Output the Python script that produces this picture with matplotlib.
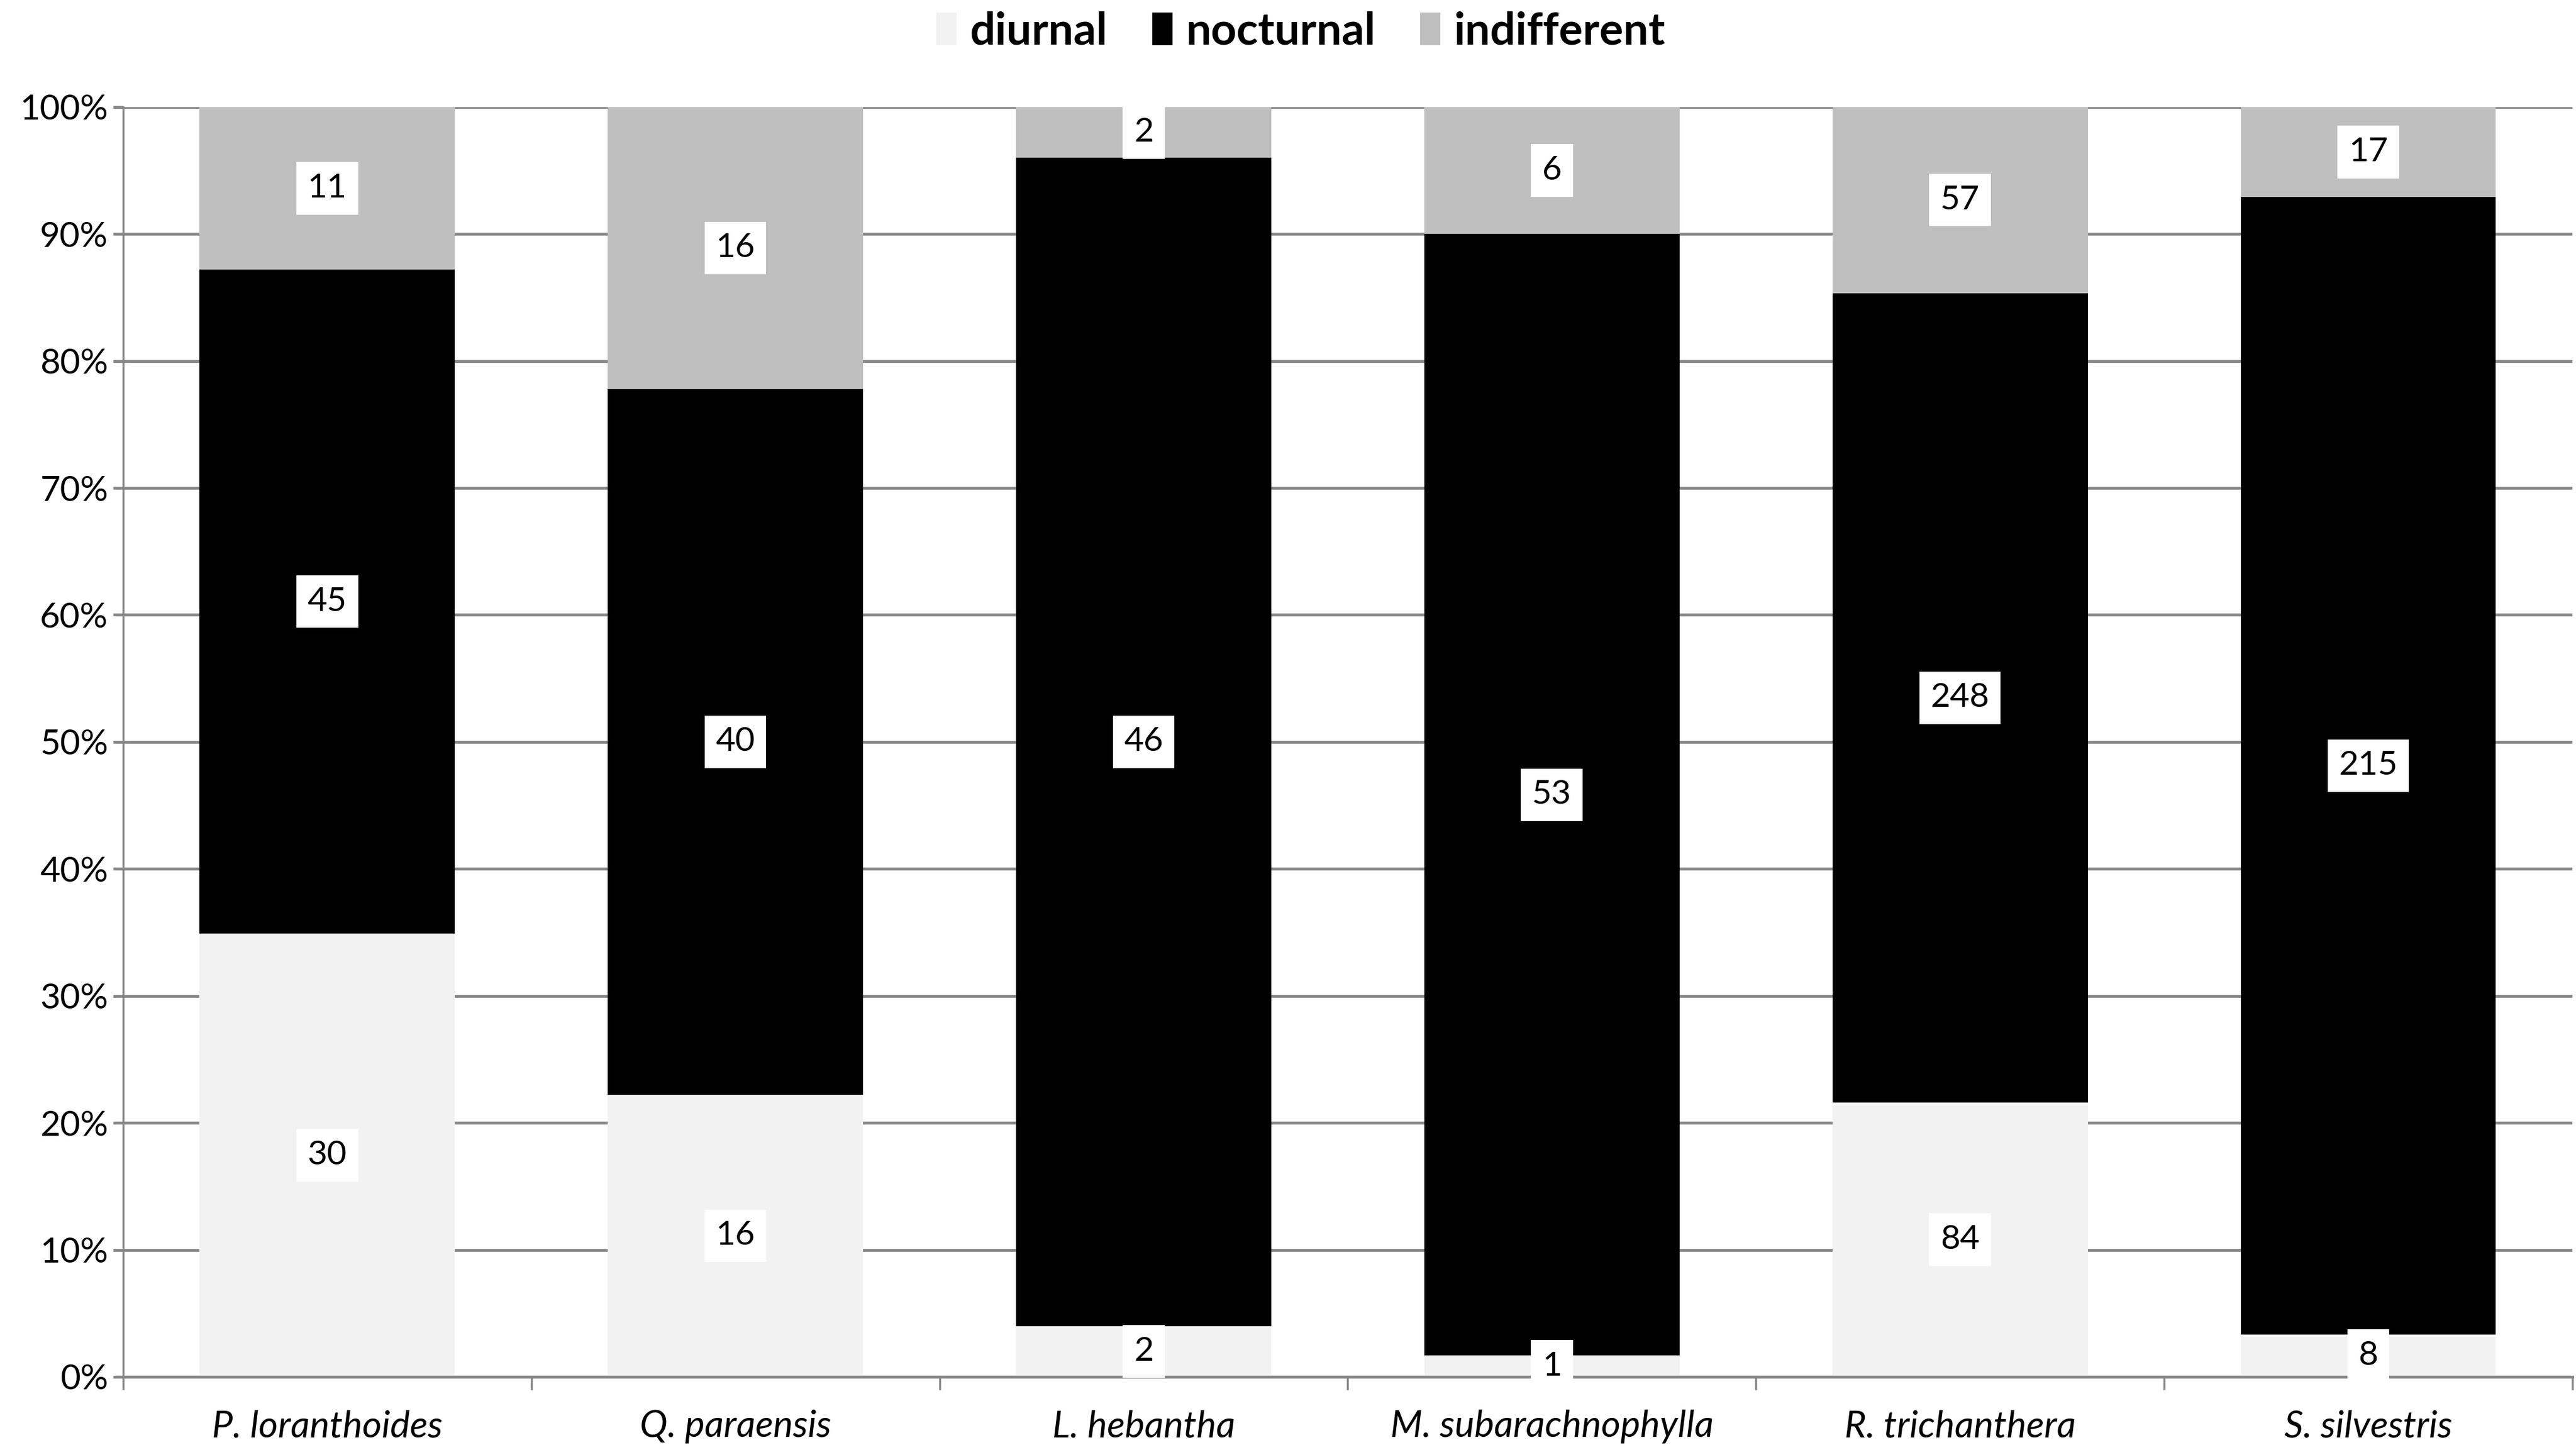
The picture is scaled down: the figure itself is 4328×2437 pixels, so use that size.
import numpy as np
import matplotlib.pyplot as plt
from matplotlib.patches import Patch

# Data (counts per species)
species = ['P. loranthoides', 'Q. paraensis', 'L. hebantha',
           'M. subarachnophylla', 'R. trichanthera', 'S. silvestris']
diurnal = np.array([30, 16, 2, 1, 84, 8])
nocturnal = np.array([45, 40, 46, 53, 248, 215])
indifferent = np.array([11, 16, 2, 6, 57, 17])

series_names = ['diurnal', 'nocturnal', 'indifferent']
series_colors = ['#f2f2f2', '#000000', '#bfbfbf']

plt.rcParams['font.family'] = ['Lato', 'DejaVu Sans']

fig = plt.figure(figsize=(43.28, 24.37), dpi=100)
ax = fig.add_axes([0.0478, 0.0505, 0.9508, 0.8757])

totals = diurnal + nocturnal + indifferent
x = np.arange(len(species))
bottom = np.zeros(len(species))
for counts, name, col in zip([diurnal, nocturnal, indifferent], series_names, series_colors):
    pct = counts / totals * 100
    ax.bar(x, pct, width=0.625, bottom=bottom, color=col, label=name, zorder=2)
    for xi, b, p, c in zip(x, bottom, pct, counts):
        ax.text(xi, b + p / 2, str(c), ha='center', va='center', fontsize=41, color='black',
                zorder=4, bbox=dict(boxstyle='square,pad=0.33', fc='white', ec='none'))
    bottom = bottom + pct

ax.set_xlim(-0.5, len(species) - 0.5)
ax.set_ylim(0, 100)
ax.set_yticks(np.arange(0, 101, 10))
ax.set_yticklabels([f'{v}%' for v in range(0, 101, 10)], fontsize=42)
ax.yaxis.grid(True, color='#878787', lw=3.5, zorder=0)
ax.set_axisbelow(True)

ax.set_xticks(x)
ax.set_xticklabels(species, fontsize=45, style='italic')
ax.set_xticks(np.arange(-0.5, len(species)), minor=True)
ax.tick_params(axis='x', which='major', length=0, pad=40)
ax.tick_params(axis='x', which='minor', length=16, width=2.5, color='#878787')
ax.tick_params(axis='y', length=12, width=3.5, color='#878787', pad=6)

for s in ['top', 'right']:
    ax.spines[s].set_visible(False)
ax.spines['left'].set_color('#878787')
ax.spines['left'].set_linewidth(2.5)
ax.spines['bottom'].set_color('#878787')
ax.spines['bottom'].set_linewidth(3.5)

handles = [Patch(facecolor=c, edgecolor='none') for c in series_colors]
fig.legend(handles, series_names, loc='upper center', bbox_to_anchor=(0.505, 1.02), ncol=3,
           frameon=False, prop={'size': 54, 'weight': 'bold'}, handlelength=0.45,
           handleheight=0.75, handletextpad=0.3, columnspacing=1.0)

fig.savefig('out.png', dpi=100, facecolor='white')
